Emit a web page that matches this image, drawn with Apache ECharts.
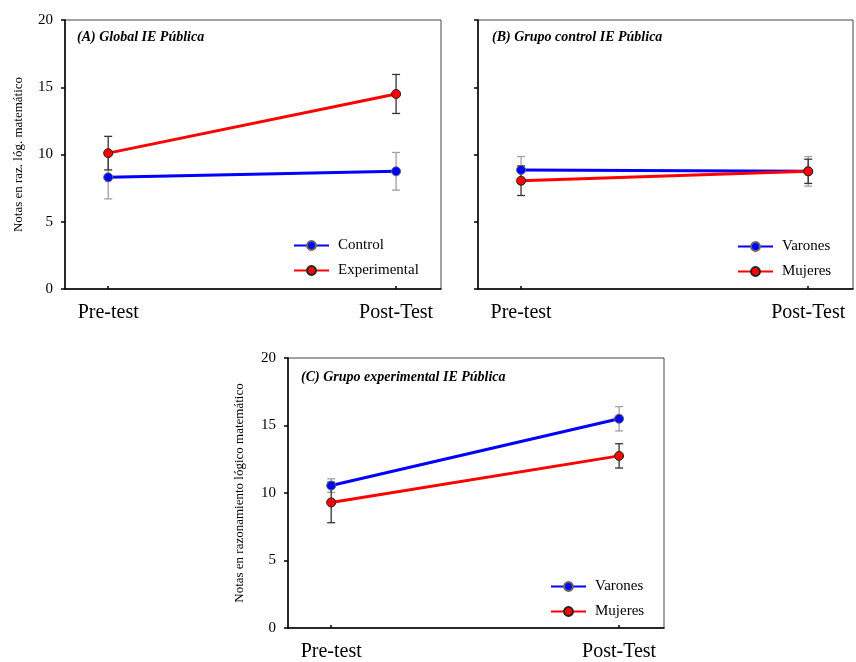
<!DOCTYPE html>
<html>
<head>
<meta charset="utf-8">
<script src="https://cdn.jsdelivr.net/npm/echarts@6/dist/echarts.min.js"></script>
<style>
html, body { margin: 0; padding: 0; background: #fff; }
#chart { width: 856px; height: 662px; }
</style>
</head>
<body>
<div id="chart"></div>
<script>
// data
const categories = ['Pre-test', 'Post-Test'];
const yTicks = [0, 5, 10, 15, 20];

const controlMean = [8.3, 8.75];
const controlErr = [1.6, 1.4];
const experimentalMean = [10.1, 14.5];
const experimentalErr = [1.25, 1.45];

const bVaronesMean = [8.85, 8.75];
const bVaronesErr = [1.0, 1.1];
const bMujeresMean = [8.05, 8.75];
const bMujeresErr = [1.1, 0.9];

const cVaronesMean = [10.55, 15.5];
const cVaronesErr = [0.5, 0.9];
const cMujeresMean = [9.3, 12.75];
const cMujeresErr = [1.5, 0.9];

const serif = 'Liberation Serif';
const BLUE = '#0000ff';
const RED = '#ff0000';

const mychart = echarts.init(document.getElementById('chart'));

function points(mean) {
  return mean.map((v, i) => [i, v]);
}
function bars(mean, err) {
  return mean.map((v, i) => [i, v - err[i], v + err[i]]);
}

function xAxisFor(gi) {
  return {
    type: 'value',
    gridIndex: gi,
    min: -0.15,
    max: 1.156,
    splitLine: { show: false },
    axisLine: { onZero: false, lineStyle: { color: '#000', width: 1.5 } },
    axisTick: { inside: true, length: 3, customValues: [0, 1], lineStyle: { color: '#000', width: 1.5 } },
    axisLabel: {
      customValues: [0, 1],
      formatter: v => categories[Math.round(v)],
      margin: 14,
      fontFamily: serif,
      fontSize: 20,
      color: '#000'
    }
  };
}

function yAxisFor(gi, name, labels, gap) {
  return {
    type: 'value',
    gridIndex: gi,
    min: yTicks[0],
    max: yTicks[yTicks.length - 1],
    interval: 5,
    name: name,
    nameLocation: 'middle',
    nameGap: gap,
    nameTextStyle: { fontFamily: serif, fontSize: 13, color: '#000' },
    splitLine: { show: false },
    axisLine: { show: true, onZero: false, lineStyle: { color: '#000', width: 1.5 } },
    axisTick: { show: true, length: 4, lineStyle: { color: '#000', width: 1.5 } },
    axisLabel: { show: labels, margin: 12, fontFamily: serif, fontSize: 15, color: '#000' }
  };
}

function lineSeries(name, gi, mean, color) {
  return {
    type: 'line',
    name: name,
    xAxisIndex: gi,
    yAxisIndex: gi,
    data: points(mean),
    symbol: 'circle',
    symbolSize: 9,
    lineStyle: { color: color, width: 3 },
    itemStyle: { color: color, borderColor: color === RED ? '#222' : '#666', borderWidth: 1 },
    z: 3
  };
}

function errSeries(gi, mean, err, color) {
  return {
    type: 'custom',
    xAxisIndex: gi,
    yAxisIndex: gi,
    data: bars(mean, err),
    encode: { x: 0, y: [1, 2] },
    z: 2,
    silent: true,
    renderItem: function (params, api) {
      const lo = api.coord([api.value(0), api.value(1)]);
      const hi = api.coord([api.value(0), api.value(2)]);
      const w = 4;
      const st = { stroke: color, lineWidth: 1.3 };
      return {
        type: 'group',
        children: [
          { type: 'line', shape: { x1: lo[0], y1: lo[1], x2: hi[0], y2: hi[1] }, style: st },
          { type: 'line', shape: { x1: lo[0] - w, y1: lo[1], x2: lo[0] + w, y2: lo[1] }, style: st },
          { type: 'line', shape: { x1: hi[0] - w, y1: hi[1], x2: hi[0] + w, y2: hi[1] }, style: st }
        ]
      };
    }
  };
}

function legendFor(left, top, names) {
  return {
    left: left,
    top: top,
    orient: 'vertical',
    data: names,
    itemWidth: 35,
    itemHeight: 11,
    itemGap: 10,
    selectedMode: false,
    textStyle: { fontFamily: serif, fontSize: 15, color: '#000', padding: [0, 0, 0, 4] }
  };
}

function titleFor(text, left, top) {
  return {
    text: text,
    left: left,
    top: top,
    textStyle: { fontFamily: serif, fontSize: 14, fontWeight: 'bold', fontStyle: 'italic', color: '#000' }
  };
}

const GREY = '#a0a0a0';
const DARK = '#333333';

const option = {
  animation: false,
  backgroundColor: '#fff',
  title: [
    titleFor('(A) Global IE Pública', 72, 25),
    titleFor('(B) Grupo control IE Pública', 487, 25),
    titleFor('(C) Grupo experimental IE Pública', 296, 365)
  ],
  legend: [
    legendFor(288, 233, ['Control', 'Experimental']),
    legendFor(732, 234, ['Varones', 'Mujeres']),
    legendFor(545, 574, ['Varones', 'Mujeres'])
  ],
  grid: [
    { left: 65, top: 20, width: 376, height: 269, show: true, borderColor: '#444', borderWidth: 1 },
    { left: 478, top: 20, width: 375, height: 269, show: true, borderColor: '#444', borderWidth: 1 },
    { left: 288, top: 358, width: 376, height: 271, show: true, borderColor: '#444', borderWidth: 1 }
  ],
  xAxis: [xAxisFor(0), xAxisFor(1), xAxisFor(2)],
  yAxis: [
    yAxisFor(0, 'Notas en raz. lóg. matemático', true, 40),
    yAxisFor(1, '', false, 40),
    yAxisFor(2, 'Notas en razonamiento lógico matemático', true, 42)
  ],
  series: [
    errSeries(0, controlMean, controlErr, GREY),
    errSeries(0, experimentalMean, experimentalErr, DARK),
    lineSeries('Control', 0, controlMean, BLUE),
    lineSeries('Experimental', 0, experimentalMean, RED),

    errSeries(1, bVaronesMean, bVaronesErr, GREY),
    errSeries(1, bMujeresMean, bMujeresErr, DARK),
    lineSeries('Varones', 1, bVaronesMean, BLUE),
    lineSeries('Mujeres', 1, bMujeresMean, RED),

    errSeries(2, cVaronesMean, cVaronesErr, GREY),
    errSeries(2, cMujeresMean, cMujeresErr, DARK),
    lineSeries('Varones', 2, cVaronesMean, BLUE),
    lineSeries('Mujeres', 2, cMujeresMean, RED)
  ]
};

mychart.setOption(option, true);
</script>
</body>
</html>
